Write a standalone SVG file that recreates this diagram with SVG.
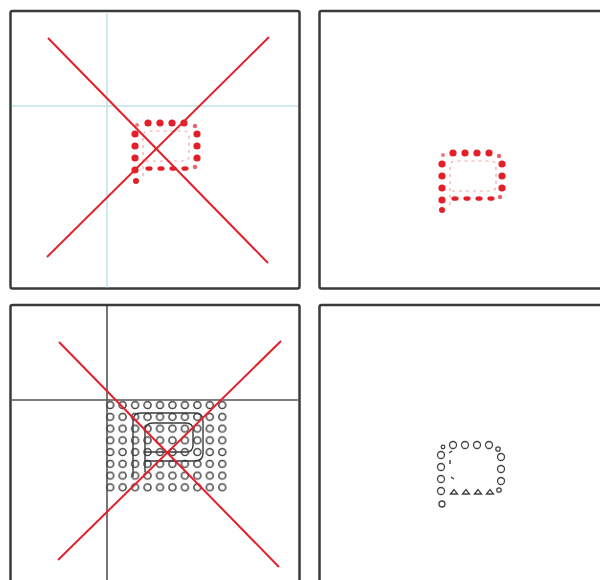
<svg xmlns="http://www.w3.org/2000/svg" width="600" height="580" viewBox="0 0 600 580">
<style>
.panel{fill:#fff;stroke:#3a3a3a;stroke-width:2.5}
.guide{stroke:#bfe2ee;stroke-width:1.5}
.rule{stroke:#555;stroke-width:1.6}
.cross{stroke:#e3202a;stroke-width:2}
.rdot{fill:#e3202a}
.rlight{fill:none;stroke:#f4a3a7;stroke-width:1.2;stroke-dasharray:3 4}
.odot{fill:none;stroke:#444;stroke-width:1.3}
.outline{fill:none;stroke:#3a3a3a;stroke-width:1.4}
</style>
<defs>
<pattern id="grid" patternUnits="userSpaceOnUse" x="104" y="399.2" width="12.45" height="11.75">
<circle cx="6.2" cy="5.9" r="3.5" fill="none" stroke="#444" stroke-width="1.5"/>
</pattern>
</defs>

<g id="panel-top-left">
<rect class="panel" x="10.5" y="11" width="289" height="277.5" rx="2"/>
<line class="guide" x1="107" y1="12" x2="107" y2="287.5"/>
<line class="guide" x1="12" y1="106" x2="298" y2="106"/>
<g id="p-red-1">
<path class="rlight" d="M143 176 V137 Q143 131 149 131 H184 Q189 131 189 137 V155 Q189 161 184 161 H145"/>
<circle class="rdot" cx="148" cy="123" r="3.6"/><circle class="rdot" cx="160" cy="123" r="3.6"/><circle class="rdot" cx="172" cy="123" r="3.6"/><circle class="rdot" cx="184" cy="123" r="3.6"/>
<circle class="rdot" cx="195" cy="126" r="2.2" opacity="0.7"/>
<circle class="rdot" cx="197" cy="134" r="3.6"/><circle class="rdot" cx="197" cy="146" r="3.6"/><circle class="rdot" cx="197" cy="158" r="3.6"/>
<circle class="rdot" cx="195" cy="167" r="2.2" opacity="0.7"/>
<ellipse class="rdot" cx="149" cy="168.5" rx="3.6" ry="2.3"/><ellipse class="rdot" cx="161" cy="168.5" rx="3.6" ry="2.3"/><ellipse class="rdot" cx="173" cy="168.5" rx="3.6" ry="2.3"/><ellipse class="rdot" cx="185" cy="168.5" rx="3.6" ry="2.3"/>
<circle class="rdot" cx="135" cy="134" r="3.6"/><circle class="rdot" cx="135" cy="146" r="3.6"/><circle class="rdot" cx="135" cy="158" r="3.6"/><circle class="rdot" cx="135" cy="170" r="3.6"/><circle class="rdot" cx="136" cy="181" r="3"/>
<circle class="rdot" cx="137" cy="125" r="2" opacity="0.6"/>
</g>
<line class="cross" x1="48" y1="38" x2="268" y2="263"/>
<line class="cross" x1="47" y1="257" x2="269" y2="37"/>
</g>

<g id="panel-top-right">
<rect class="panel" x="319.5" y="11" width="292" height="277.5" rx="2"/>
<g id="p-red-2">
<path class="rlight" d="M450 205 V167 Q450 161 456 161 H491 Q496 161 496 167 V185 Q496 191 491 191 H452"/>
<circle class="rdot" cx="453" cy="153" r="3.6"/><circle class="rdot" cx="465" cy="153" r="3.6"/><circle class="rdot" cx="477" cy="153" r="3.6"/><circle class="rdot" cx="489" cy="153" r="3.6"/>
<circle class="rdot" cx="499" cy="156" r="2.2" opacity="0.7"/>
<circle class="rdot" cx="502" cy="164" r="3.6"/><circle class="rdot" cx="502" cy="176" r="3.6"/><circle class="rdot" cx="502" cy="188" r="3.6"/>
<circle class="rdot" cx="500" cy="197" r="2.2" opacity="0.7"/>
<ellipse class="rdot" cx="455" cy="198.5" rx="3.6" ry="2.3"/><ellipse class="rdot" cx="467" cy="198.5" rx="3.6" ry="2.3"/><ellipse class="rdot" cx="479" cy="198.5" rx="3.6" ry="2.3"/><ellipse class="rdot" cx="491" cy="198.5" rx="3.6" ry="2.3"/>
<circle class="rdot" cx="442" cy="164" r="3.6"/><circle class="rdot" cx="442" cy="176" r="3.6"/><circle class="rdot" cx="442" cy="188" r="3.6"/><circle class="rdot" cx="442" cy="200" r="3.6"/><circle class="rdot" cx="442" cy="210" r="3"/>
<circle class="rdot" cx="443" cy="155" r="2" opacity="0.6"/>
</g>
</g>

<g id="panel-bottom-left">
<rect class="panel" x="10.5" y="305" width="289" height="290" rx="2"/>
<line class="rule" x1="107" y1="306" x2="107" y2="580"/>
<line class="rule" x1="12" y1="400" x2="298" y2="400"/>
<rect x="104" y="399.2" width="124.5" height="94" fill="url(#grid)"/>
<g id="p-outline">
<path class="outline" d="M133 477 V421 Q133 413 141 413 H195 Q203 413 203 421 V453 Q203 461 195 461 H145"/>
<path class="outline" d="M145 472 V431 Q145 423 153 423 H186 Q193 423 193 430 V445 Q193 452 186 452 H145"/>
</g>
<line class="cross" x1="59" y1="342" x2="279" y2="567"/>
<line class="cross" x1="58" y1="560" x2="281" y2="341"/>
</g>

<g id="panel-bottom-right">
<rect class="panel" x="319.5" y="305" width="292" height="290" rx="2"/>
<g id="p-circles">
<circle class="odot" cx="453" cy="445" r="3.5"/><circle class="odot" cx="465" cy="445" r="3.5"/><circle class="odot" cx="477" cy="445" r="3.5"/><circle class="odot" cx="489" cy="445" r="3.5"/>
<circle class="odot" cx="498" cy="449" r="2.2"/>
<circle class="odot" cx="501" cy="457" r="3.5"/><circle class="odot" cx="501" cy="469" r="3.5"/><circle class="odot" cx="501" cy="481" r="3.5"/>
<circle class="odot" cx="499" cy="490" r="2.2"/>
<path class="odot" d="M450.5 494 L454 489.5 L457.5 494 Z M462.5 494 L466 489.5 L469.5 494 Z M474.5 494 L478 489.5 L481.5 494 Z M486.5 494 L490 489.5 L493.5 494 Z"/>
<circle class="odot" cx="441" cy="455" r="3.5"/><circle class="odot" cx="441" cy="467" r="3.5"/><circle class="odot" cx="441" cy="479" r="3.5"/><circle class="odot" cx="441" cy="491" r="3.5"/><circle class="odot" cx="442" cy="504" r="3"/>
<circle class="odot" cx="443" cy="447" r="1.8"/>
<path class="outline" d="M449 453 L452 451 M450 460 V464 M451 477 L454 479"/>
</g>
</g>
</svg>
